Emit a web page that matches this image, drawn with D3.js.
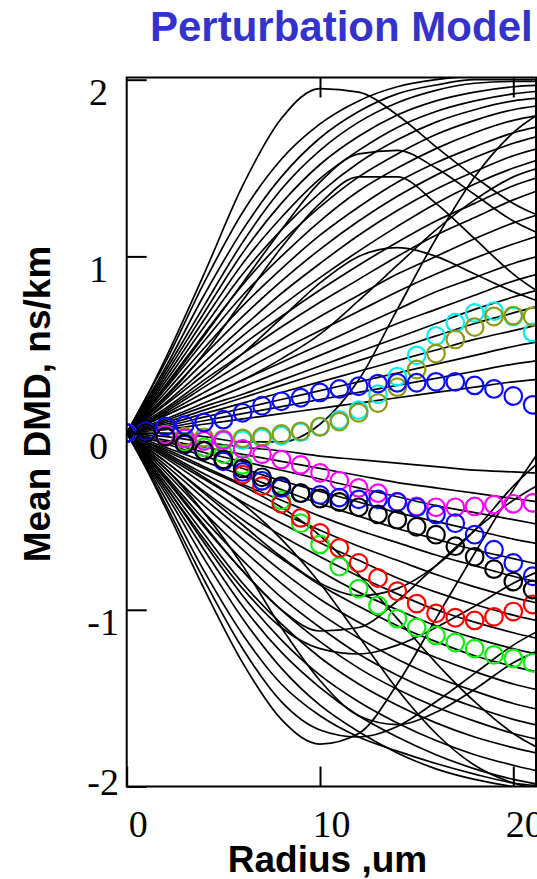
<!DOCTYPE html>
<html>
<head>
<meta charset="utf-8">
<script src="https://cdn.jsdelivr.net/npm/d3@7"></script>
<style>
  html, body { margin: 0; padding: 0; background: #fff; }
  svg { display: block; }
</style>
</head>
<body>
<svg id="chart" width="537" height="879"></svg>
<script>
// Radius grid (um) shared by all simulated DMD traces
const radius = [0, 1, 2, 4, 6, 8, 10, 12, 14, 16, 18, 20, 22];

// Simulated traces that bend towards positive DMD
const upperTraces = [
  [0, 0.20, 0.42, 0.90, 1.40, 1.78, 1.95, 1.93, 1.80, 1.62, 1.45, 1.30, 1.20],
  [0, 0.20, 0.40, 0.85, 1.25, 1.55, 1.75, 1.88, 1.96, 2.00, 2.02, 2.02, 2.02],
  [0, 0.18, 0.37, 0.78, 1.15, 1.45, 1.67, 1.82, 1.92, 1.97, 2.00, 2.00, 2.00],
  [0, 0.17, 0.35, 0.72, 1.08, 1.38, 1.60, 1.76, 1.87, 1.94, 1.98, 1.99, 1.99],
  [0, 0.16, 0.33, 0.68, 1.02, 1.30, 1.52, 1.68, 1.80, 1.88, 1.93, 1.96, 1.97],
  [0, 0.15, 0.31, 0.64, 0.96, 1.22, 1.44, 1.60, 1.73, 1.82, 1.88, 1.92, 1.94],
  [0, 0.14, 0.29, 0.60, 0.90, 1.15, 1.36, 1.53, 1.66, 1.76, 1.83, 1.88, 1.90],
  [0, 0.13, 0.27, 0.56, 0.84, 1.08, 1.28, 1.45, 1.58, 1.69, 1.77, 1.83, 1.86],
  [0, 0.12, 0.25, 0.52, 0.78, 1.00, 1.20, 1.37, 1.50, 1.61, 1.70, 1.77, 1.81],
  [0, 0.11, 0.23, 0.48, 0.72, 0.93, 1.12, 1.28, 1.42, 1.53, 1.62, 1.70, 1.75],
  [0, 0.10, 0.21, 0.44, 0.66, 0.86, 1.04, 1.20, 1.34, 1.46, 1.56, 1.64, 1.70],
  [0, 0.12, 0.26, 0.55, 0.85, 1.15, 1.42, 1.58, 1.60, 1.50, 1.35, 1.20, 1.10],
  [0, 0.09, 0.19, 0.40, 0.60, 0.79, 0.96, 1.12, 1.26, 1.38, 1.48, 1.57, 1.63],
  [0, 0.08, 0.17, 0.36, 0.55, 0.72, 0.88, 1.03, 1.17, 1.30, 1.41, 1.50, 1.57],
  [0, 0.08, 0.16, 0.33, 0.50, 0.66, 0.81, 0.95, 1.08, 1.20, 1.30, 1.40, 1.47],
  [0, 0.07, 0.14, 0.30, 0.45, 0.60, 0.74, 0.87, 1.00, 1.12, 1.22, 1.32, 1.40],
  [0, 0.05, 0.10, 0.20, 0.30, 0.42, 0.56, 0.75, 0.95, 1.15, 1.32, 1.45, 1.52],
  [0, 0.06, 0.12, 0.26, 0.40, 0.53, 0.66, 0.78, 0.90, 1.00, 1.10, 1.19, 1.26],
  [0, 0.05, 0.11, 0.23, 0.35, 0.47, 0.58, 0.69, 0.80, 0.90, 0.99, 1.07, 1.14],
  [0, 0.05, 0.10, 0.20, 0.30, 0.40, 0.50, 0.60, 0.70, 0.80, 0.88, 0.96, 1.02],
  [0, 0.06, 0.13, 0.28, 0.45, 0.65, 0.85, 1.00, 1.05, 1.00, 0.90, 0.80, 0.72],
  [0, 0.04, 0.08, 0.17, 0.26, 0.35, 0.44, 0.53, 0.62, 0.70, 0.78, 0.86, 0.92],
  [0, 0.03, 0.07, 0.15, 0.22, 0.30, 0.38, 0.46, 0.54, 0.62, 0.70, 0.77, 0.83],
  [0, 0.03, 0.06, 0.13, 0.20, 0.27, 0.34, 0.41, 0.48, 0.55, 0.62, 0.68, 0.74],
  [0, 0.03, 0.05, 0.11, 0.17, 0.23, 0.29, 0.35, 0.41, 0.47, 0.53, 0.58, 0.63],
  [0, 0.02, 0.04, 0.09, 0.14, 0.19, 0.24, 0.29, 0.34, 0.39, 0.44, 0.49, 0.53],
  [0, 0.02, 0.03, 0.07, 0.11, 0.15, 0.19, 0.23, 0.27, 0.31, 0.35, 0.39, 0.42],
  [0, 0.01, 0.02, 0.05, 0.08, 0.11, 0.14, 0.17, 0.20, 0.23, 0.26, 0.29, 0.31],
  [0, 0.00, 0.00, -0.02, -0.05, -0.05, 0.05, 0.30, 0.70, 1.10, 1.45, 1.70, 1.85],
  [0, 0.10, 0.20, 0.45, 0.75, 1.05, 1.30, 1.45, 1.45, 1.30, 1.10, 0.90, 0.75]
];

// Simulated traces that bend towards negative DMD
const lowerTraces = [
  [0, -0.20, -0.42, -0.88, -1.30, -1.62, -1.76, -1.70, -1.42, -1.05, -0.68, -0.32, 0.00],
  [0, -0.19, -0.40, -0.83, -1.22, -1.52, -1.68, -1.72, -1.66, -1.52, -1.36, -1.20, -1.08],
  [0, -0.18, -0.37, -0.78, -1.14, -1.42, -1.60, -1.72, -1.80, -1.87, -1.93, -1.98, -2.00],
  [0, -0.17, -0.34, -0.71, -1.05, -1.33, -1.54, -1.69, -1.81, -1.90, -1.96, -2.00, -2.02],
  [0, -0.16, -0.32, -0.66, -0.98, -1.24, -1.44, -1.60, -1.72, -1.82, -1.90, -1.96, -2.00],
  [0, -0.15, -0.30, -0.62, -0.92, -1.17, -1.37, -1.52, -1.64, -1.74, -1.82, -1.88, -1.93],
  [0, -0.14, -0.28, -0.57, -0.85, -1.08, -1.27, -1.42, -1.54, -1.64, -1.72, -1.78, -1.83],
  [0, -0.13, -0.26, -0.53, -0.78, -1.00, -1.18, -1.33, -1.45, -1.55, -1.63, -1.70, -1.75],
  [0, -0.12, -0.24, -0.49, -0.72, -0.93, -1.10, -1.25, -1.37, -1.47, -1.55, -1.62, -1.67],
  [0, -0.15, -0.30, -0.60, -0.88, -1.10, -1.22, -1.25, -1.20, -1.10, -0.98, -0.85, -0.75],
  [0, -0.11, -0.22, -0.45, -0.66, -0.85, -1.02, -1.16, -1.28, -1.38, -1.46, -1.53, -1.58],
  [0, -0.10, -0.20, -0.41, -0.60, -0.78, -0.94, -1.07, -1.18, -1.27, -1.35, -1.42, -1.47],
  [0, -0.09, -0.18, -0.37, -0.55, -0.71, -0.86, -0.98, -1.09, -1.18, -1.26, -1.32, -1.37],
  [0, -0.08, -0.16, -0.33, -0.49, -0.64, -0.78, -0.90, -1.00, -1.09, -1.16, -1.22, -1.27],
  [0, -0.07, -0.14, -0.29, -0.44, -0.58, -0.70, -0.81, -0.91, -1.00, -1.07, -1.13, -1.18],
  [0, -0.06, -0.13, -0.26, -0.39, -0.51, -0.62, -0.72, -0.82, -0.90, -0.97, -1.03, -1.08],
  [0, -0.05, -0.10, -0.20, -0.30, -0.42, -0.58, -0.80, -1.05, -1.30, -1.52, -1.70, -1.82],
  [0, -0.05, -0.11, -0.23, -0.34, -0.45, -0.55, -0.64, -0.72, -0.80, -0.87, -0.93, -0.98],
  [0, -0.05, -0.09, -0.19, -0.29, -0.38, -0.47, -0.55, -0.62, -0.69, -0.75, -0.81, -0.86],
  [0, -0.04, -0.08, -0.16, -0.24, -0.32, -0.40, -0.47, -0.54, -0.60, -0.66, -0.71, -0.76],
  [0, -0.03, -0.06, -0.13, -0.20, -0.27, -0.33, -0.39, -0.45, -0.50, -0.55, -0.60, -0.64],
  [0, -0.03, -0.05, -0.11, -0.16, -0.21, -0.26, -0.31, -0.36, -0.41, -0.45, -0.49, -0.53],
  [0, -0.02, -0.04, -0.08, -0.12, -0.16, -0.20, -0.24, -0.28, -0.31, -0.34, -0.37, -0.40],
  [0, -0.01, -0.02, -0.05, -0.08, -0.10, -0.13, -0.15, -0.17, -0.19, -0.21, -0.22, -0.23],
  [0, -0.12, -0.25, -0.52, -0.78, -1.00, -1.12, -1.10, -0.95, -0.75, -0.55, -0.38, -0.25],
  [0, -0.08, -0.16, -0.34, -0.52, -0.70, -0.85, -0.92, -0.88, -0.75, -0.55, -0.30, -0.10],
  [0, -0.10, -0.20, -0.45, -0.75, -1.10, -1.40, -1.60, -1.65, -1.58, -1.45, -1.30, -1.20],
  [0, -0.06, -0.12, -0.25, -0.40, -0.60, -0.85, -1.15, -1.45, -1.70, -1.88, -1.98, -2.02]
];

// Measured fibres (ring markers), one value per micron of radius
const ringRadius = [0, 1, 2, 3, 4, 5, 6, 7, 8, 9, 10, 11, 12, 13, 14, 15, 16, 17, 18, 19, 20, 21];
const cyanFibre    = [0, 0, -0.018, -0.03, -0.04, -0.045, -0.04, -0.03, -0.015, 0.005, 0.035, 0.075, 0.13, 0.22, 0.32, 0.44, 0.55, 0.625, 0.68, 0.69, 0.66, 0.57];
const oliveFibre   = [0, 0, -0.01, -0.02, -0.025, -0.035, -0.03, -0.02, -0.005, 0.01, 0.037, 0.065, 0.115, 0.17, 0.26, 0.36, 0.45, 0.53, 0.60, 0.66, 0.665, 0.66];
const greenFibre   = [0, 0, -0.02, -0.05, -0.08, -0.12, -0.18, -0.27, -0.38, -0.51, -0.63, -0.755, -0.88, -0.975, -1.05, -1.10, -1.145, -1.185, -1.22, -1.255, -1.275, -1.30];
const redFibre     = [0, 0, -0.02, -0.06, -0.10, -0.15, -0.235, -0.30, -0.40, -0.48, -0.565, -0.65, -0.735, -0.82, -0.895, -0.965, -1.02, -1.045, -1.06, -1.04, -1.01, -0.97];
const magentaFibre = [0, 0, -0.01, -0.03, -0.045, -0.04, -0.09, -0.12, -0.15, -0.18, -0.225, -0.27, -0.31, -0.34, -0.39, -0.415, -0.42, -0.42, -0.415, -0.405, -0.40, -0.395];
const blueLowFibre = [0, 0, -0.02, -0.065, -0.10, -0.16, -0.22, -0.27, -0.31, -0.34, -0.35, -0.365, -0.375, -0.375, -0.39, -0.42, -0.46, -0.51, -0.575, -0.66, -0.735, -0.81];
const blueHighFibre = [0, 0.01, 0.038, 0.045, 0.06, 0.076, 0.115, 0.155, 0.18, 0.20, 0.23, 0.25, 0.265, 0.28, 0.285, 0.285, 0.29, 0.29, 0.27, 0.25, 0.21, 0.16];
const blackRadius  = [1, 2, 3, 4, 5, 6, 7, 8, 9, 10, 11, 12, 13, 14, 15, 16, 17, 18, 19, 20, 21];
const blackFibre   = [0, -0.02, -0.06, -0.10, -0.15, -0.20, -0.25, -0.30, -0.34, -0.37, -0.39, -0.42, -0.46, -0.49, -0.53, -0.575, -0.64, -0.70, -0.77, -0.84, -0.885];

const xTicks = [0, 10, 20];
const yTicks = [-2, -1, 0, 1, 2];

const ringSeries = [
  { r: ringRadius, v: cyanFibre, color: "#00f0f0" },
  { r: ringRadius, v: oliveFibre, color: "#8c9a12" },
  { r: ringRadius, v: greenFibre, color: "#10ee10" },
  { r: ringRadius, v: redFibre, color: "#ff0000" },
  { r: ringRadius, v: magentaFibre, color: "#ff00ff" },
  { r: ringRadius, v: blueLowFibre, color: "#0a0aff" },
  { r: ringRadius, v: blueHighFibre, color: "#0a0aff" },
  { r: blackRadius, v: blackFibre, color: "#000000" }
];

const svg = d3.select("#chart");
const plot = { left: 126.7, right: 536, top: 77.5, bottom: 786.5 };

const x = d3.scaleLinear().domain([0, 20]).range([126.7, 513.3]);
const y = d3.scaleLinear().domain([-2, 2]).range([786.5, 79.7]);

// Title
svg.append("text")
  .attr("x", 150).attr("y", 41)
  .attr("font-family", "'Liberation Sans', Arial, sans-serif")
  .attr("font-weight", "bold").attr("font-size", 42)
  .attr("fill", "#3333cc")
  .text("Perturbation Model");

// Clip for everything drawn inside the frame
svg.append("defs").append("clipPath").attr("id", "plotClip")
  .append("rect")
  .attr("x", plot.left).attr("y", plot.top)
  .attr("width", plot.right - plot.left).attr("height", plot.bottom - plot.top);

const inner = svg.append("g").attr("clip-path", "url(#plotClip)");

const line = d3.line()
  .x((d, i) => x(radius[i]))
  .y(d => y(d))
  .curve(d3.curveMonotoneX);

inner.append("g")
  .selectAll("path")
  .data(upperTraces.concat(lowerTraces))
  .join("path")
  .attr("d", line)
  .attr("fill", "none")
  .attr("stroke", "#000")
  .attr("stroke-width", 1.7)
  .attr("stroke-linejoin", "round");

// Ring markers for the measured fibres
ringSeries.forEach(s => {
  inner.append("g")
    .selectAll("circle")
    .data(s.v.map((v, i) => [s.r[i], v]))
    .join("circle")
    .attr("cx", d => x(d[0]))
    .attr("cy", d => y(d[1]))
    .attr("r", 8.8)
    .attr("fill", "none")
    .attr("stroke", s.color)
    .attr("stroke-width", 2.2);
});

// Axes: inward ticks, Times labels
const axisFont = "'Liberation Serif', 'Times New Roman', serif";

const leftAxis = svg.append("g")
  .attr("transform", `translate(${plot.left},0)`)
  .call(d3.axisLeft(y).tickValues(yTicks).tickSizeInner(-20).tickSizeOuter(0)
    .tickFormat(d => String(d)));
leftAxis.select(".domain").remove();
leftAxis.selectAll(".tick line").attr("stroke", "#000").attr("stroke-width", 2);
leftAxis.selectAll(".tick text")
  .attr("font-family", axisFont).attr("font-size", 38).attr("fill", "#000")
  .attr("text-anchor", "end")
  .attr("x", d => d < 0 ? 119 - plot.left : 108 - plot.left)
  .attr("dy", null)
  .attr("y", d => d === -2 ? 7.5 : 25);

const bottomAxis = svg.append("g")
  .attr("transform", `translate(0,${plot.bottom})`)
  .call(d3.axisBottom(x).tickValues(xTicks).tickSizeInner(-20).tickSizeOuter(0)
    .tickFormat(d => String(d)));
bottomAxis.select(".domain").remove();
bottomAxis.selectAll(".tick line").attr("stroke", "#000").attr("stroke-width", 2);
bottomAxis.selectAll(".tick text")
  .attr("font-family", axisFont).attr("font-size", 38).attr("fill", "#000")
  .attr("dy", null).attr("y", 50).attr("dx", 11);

const topAxis = svg.append("g")
  .attr("transform", `translate(0,${plot.top})`)
  .call(d3.axisTop(x).tickValues([10, 20]).tickSizeInner(-20).tickSizeOuter(0)
    .tickFormat(""));
topAxis.select(".domain").remove();
topAxis.selectAll(".tick line").attr("stroke", "#000").attr("stroke-width", 2);

// Frame
svg.append("rect")
  .attr("x", plot.left).attr("y", plot.top)
  .attr("width", plot.right - plot.left).attr("height", plot.bottom - plot.top)
  .attr("fill", "none").attr("stroke", "#000").attr("stroke-width", 2);

// Axis titles
svg.append("text")
  .attr("transform", "translate(50,404) rotate(-90)")
  .attr("text-anchor", "middle")
  .attr("font-family", "'Liberation Sans', Arial, sans-serif")
  .attr("font-weight", "bold").attr("font-size", 37)
  .attr("fill", "#000")
  .text("Mean DMD, ns/km");

svg.append("text")
  .attr("x", 327.5).attr("y", 872)
  .attr("text-anchor", "middle")
  .attr("font-family", "'Liberation Sans', Arial, sans-serif")
  .attr("font-weight", "bold").attr("font-size", 37)
  .attr("fill", "#000")
  .text("Radius ,um");
</script>
</body>
</html>
